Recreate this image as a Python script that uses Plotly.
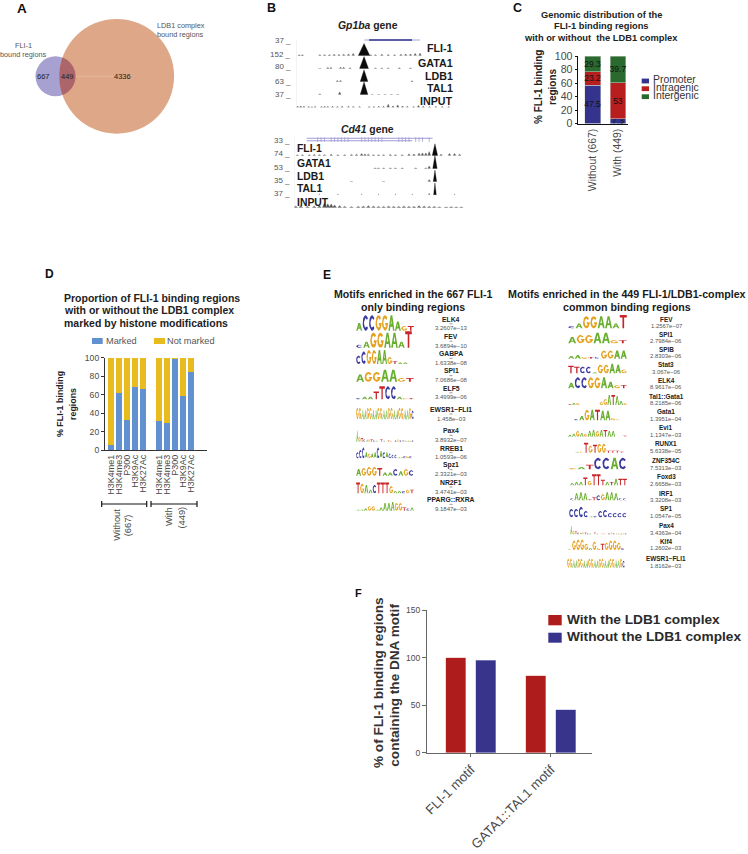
import numpy as np
import plotly.graph_objects as go

W, H = 748, 854
SANS = "Liberation Sans, Arial, sans-serif"
DARK = "#222222"
GREY = "#4a4a4a"

# ---------- data ----------
venn_labels = ["667", "449", "4336"]

c_categories = ["Without (667)", "With (449)"]
c_promoter = [57, 7.3]
c_intragenic = [20, 53]
c_intergenic = [23, 39.7]
c_promoter_text = ["47.5", "7.3"]
c_intragenic_text = ["23.2", "53"]
c_intergenic_text = ["29.3", "39.7"]
c_series = ["Promoter", "Intragenic", "Intergenic"]

d_marks = ["H3K4me1", "H3K4me3", "P300", "H3K9Ac", "H3K27Ac"]
d_marked_without = [5, 62, 32, 68, 66]
d_marked_with = [31, 29, 99, 59, 84]

f_categories = ["FLI-1 motif", "GATA1::TAL1 motif"]
f_with = [100, 81]
f_without = [97, 45]

gp1ba_scale = ["37", "152", "80", "63", "37"]
cd41_scale = ["33", "74", "53", "35", "37"]
track_names = ["FLI-1", "GATA1", "LDB1", "TAL1", "INPUT"]

gp1ba_peak_x = [42.8, 42.8, 42.8, 42.8]
gp1ba_peak_h = [0.93, 0.92, 0.9, 0.97]
gp1ba_fli1_x = [2, 4, 15, 18, 21, 24, 27, 30, 33, 36, 47, 50, 54, 58, 62, 66, 69, 72, 75, 78]
gp1ba_fli1_h = [.05, .05, .05, .06, .06, .1, .08, .1, .12, .15, .05, .06, .1, .08, .06, .1, .12, .12, .16, .18]
gp1ba_gata1_x = [15, 20, 22, 28, 30, 34, 50, 54, 58, 65, 72]
gp1ba_gata1_h = [.03, .08, .08, .1, .1, .05, .04, .04, .04, .05, .04]
gp1ba_ldb1_x = [26, 28, 73]
gp1ba_ldb1_h = [.08, .08, .05]
gp1ba_tal1_x = [15, 27.5, 48, 52, 56, 60, 64]
gp1ba_tal1_h = [.04, .2, .03, .03, .03, .03, .03]
gp1ba_input_x = [1, 3, 5, 8, 10, 12, 16, 18, 20, 23, 26, 29, 33, 36, 40, 46, 49, 52, 55, 58, 61, 64, 67, 70, 74, 77, 80, 84, 88, 92, 96]
gp1ba_input_h = [.1, .12, .1, .08, .05, .08, .08, .1, .08, .1, .08, .1, .1, .08, .08, .08, .08, .1, .1, .25, .12, .2, .12, .1, .08, .15, .1, .08, .08, .08, .08]

cd41_peak_x = [83.4, 83.4, 83.4, 83.4]
cd41_peak_h = [0.9, 1.0, 0.88, 0.9]
cd41_peak_w = [1.6, 1.3, 1.0, 0.8]
cd41_fli1_x = [2, 5, 9, 12, 15, 18, 22, 26, 30, 34, 37, 40, 42, 44, 47, 50, 53, 57, 60, 64, 68, 71, 74, 76, 78, 80, 87, 92, 95, 98]
cd41_fli1_h = [.04, .05, .05, .08, .06, .06, .1, .05, .06, .08, .1, .15, .12, .1, .05, .06, .05, .08, .05, .05, .12, .12, .18, .2, .2, .3, .1, .15, .15, .1]
cd41_gata1_x = [48, 50, 53, 57, 60, 64, 72, 78, 80]
cd41_gata1_h = [.04, .04, .04, .04, .04, .04, .04, .05, .2]
cd41_ldb1_x = [34, 53, 80]
cd41_ldb1_h = [.03, .03, .15]
cd41_tal1_x = [15, 26, 40, 50, 60, 70, 80, 95]
cd41_tal1_h = [.04, .04, .04, .04, .04, .04, .1, .04]
cd41_input_x = [1, 4, 8, 12, 15, 18, 20, 22, 24, 27, 30, 34, 38, 41, 44, 47, 50, 53, 56, 59, 62, 65, 68, 71, 74, 77, 80, 83, 86, 90, 93, 96, 99]
cd41_input_h = [.12, .15, .1, .12, .15, .35, .3, .28, .2, .15, .1, .08, .1, .12, .15, .12, .1, .1, .12, .1, .1, .12, .1, .1, .15, .12, .1, .1, .05, .05, .08, .05, .05]
cd41_exons = [14, 16, 18, 22, 24, 26, 28, 30, 32, 40, 42, 44, 46, 48, 50, 52, 62, 64, 66, 68, 72, 74, 76, 80]

# motif logos: letters and relative heights (tenths of the full logo height)
e_left_names = ["ELK4", "FEV", "GABPA", "SPI1", "ELF5", "EWSR1−FLI1", "Pax4", "RREB1", "Spz1", "NR2F1", "PPARG::RXRA"]
e_left_values = ["3.2607e−13", "3.6894e−10", "1.6338e−08", "7.0686e−08", "3.4999e−06", "1.458e−03", "3.8932e−07", "1.0593e−06", "2.3321e−03", "3.4741e−03", "9.1847e−03"]
e_left_letters = ["ACCGGAAGT", "CAGGAAAT", "CCGGAAGTAA", "AGGAAGT", "CAATTCCAGT", "GGAAGGAAGGAAGGAAGGAAGC",
                  "AGTCAGTCAGTACTGACGCTAAGC", "CCCAGAACACACCCAACGC", "AGGGTAACAGC", "TGAACTTTGAACGT", "AAAGGAAAAAGGTCA"]
e_left_heights = [[5, 10, 10, 10, 10, 10, 6, 3, 3], [2, 4, 10, 10, 10, 10, 4, 11], [6, 9, 10, 10, 10, 10, 5, 2, 1, 1],
                  [6, 8, 8, 10, 10, 3, 3], [1, 2, 2, 6, 10, 10, 10, 2, 1, 1],
                  [9, 9, 8, 8, 9, 9, 8, 8, 9, 9, 8, 8, 9, 9, 8, 8, 9, 9, 8, 8, 9, 7],
                  [10, 4, 3, 2, 2, 2, 2, 1, 1, 0, 2, 1, 0, 1, 1, 0, 1, 2, 1, 1, 1, 1, 1, 1],
                  [5, 7, 9, 5, 4, 4, 5, 9, 6, 5, 5, 4, 3, 3, 1, 1, 2, 2, 2], [6, 7, 8, 8, 7, 3, 3, 6, 4, 6, 5],
                  [9, 8, 7, 3, 7, 9, 9, 9, 6, 2, 2, 2, 3, 3], [1, 1, 2, 4, 4, 1, 3, 7, 7, 8, 7, 7, 3, 2, 3]]

e_right_names = ["FEV", "SPI1", "SPIB", "Stat3", "ELK4", "Tal1::Gata1", "Gata1", "Evi1", "RUNX1", "ZNF354C", "Foxd3", "IRF1", "SP1", "Pax4", "Klf4", "EWSR1−FLI1"]
e_right_values = ["1.2567e−07", "2.7984e−06", "2.8303e−06", "3.067e−06", "8.9617e−06", "8.2185e−06", "1.3951e−04", "1.1347e−03", "5.6338e−05", "7.5313e−03", "2.6658e−03", "3.3208e−03", "1.0547e−05", "3.4363e−04", "1.2602e−03", "1.8162e−03"]
e_right_letters = ["CAGGAAAT", "AGGAAGT", "AAGTCGGAA", "TTCCAGGAAG", "ACCGGAAGT", "TAGCATCAGGATAAG", "CAGATAAGG", "AAGAGAAGATAACCT",
                   "AGTGTGGTTTT", "GATCCAC", "AAATGTTTATATT", "CAAATTCGAAACC", "CCCCACCCCCCC", "AGTCAGTCAGTACTGACGCTAAGC", "GGGGGAGGTGGGGC", "GGAAGGAAGGAAGGAAGGAAGC"]
e_right_heights = [[2, 4, 10, 10, 10, 10, 4, 11], [6, 8, 8, 10, 10, 3, 3], [3, 4, 2, 2, 2, 9, 9, 9, 9], [8, 7, 7, 7, 1, 9, 9, 10, 9, 4],
                   [5, 10, 10, 10, 10, 10, 6, 3, 3], [1, 2, 2, 0, 0, 0, 0, 0, 3, 6, 10, 10, 9, 4, 2], [1, 4, 10, 10, 10, 9, 9, 2, 1],
                   [2, 3, 6, 4, 3, 6, 7, 6, 7, 7, 6, 6, 0, 0, 1], [1, 1, 10, 7, 8, 9, 9, 2, 2, 2, 1], [1, 2, 4, 10, 10, 10, 10],
                   [2, 3, 3, 7, 4, 10, 10, 5, 3, 3, 6, 6, 6], [2, 7, 8, 7, 1, 3, 5, 6, 8, 8, 7, 2, 2], [8, 8, 10, 6, 1, 1, 6, 7, 4, 4, 4, 4],
                   [10, 4, 3, 2, 2, 2, 2, 1, 1, 0, 2, 1, 0, 1, 1, 0, 1, 2, 1, 1, 1, 1, 1, 1], [1, 9, 10, 10, 6, 2, 8, 2, 6, 7, 9, 9, 7, 2],
                   [9, 9, 8, 8, 9, 9, 8, 8, 9, 9, 8, 8, 9, 9, 8, 8, 9, 9, 8, 8, 9, 7]]

# ---------- layout geometry (pixels) ----------
e_left_baselines = [330.7, 347.7, 364, 381.7, 399.3, 419.3, 441.7, 458.3, 475.7, 493.3, 510.7]
e_left_name_y = [319.3, 336.7, 353.7, 371, 388.3, 409.3, 430.7, 448, 465, 482.3, 499.7]
e_left_value_y = [328.3, 345.7, 363, 380.3, 397.3, 418.7, 440, 457.3, 474.3, 491.7, 509]
e_left_x = [(356, 414), (356, 412), (356, 408), (356, 414), (356, 414), (356, 414), (356, 414), (356, 412), (356, 414), (356, 414), (356, 414)]
e_left_h = [15.5, 15, 14, 12, 13, 12.7, 12, 12, 11, 12, 11]

e_right_baselines = [328.3, 343.3, 358.7, 373.3, 388.3, 405, 420.3, 436.7, 452.7, 469.3, 485.3, 500.3, 517.3, 534.3, 550, 567.7]
e_right_name_y = [319.3, 334.3, 349.7, 365, 380.3, 396.7, 411.7, 427.7, 443.3, 460, 476.7, 493, 508.7, 525.7, 541, 558.7]
e_right_value_y = [326, 341, 356.3, 371.7, 387, 403.3, 418.7, 435, 451, 467.7, 483.7, 500.3, 516, 532.7, 548.3, 565.7]
e_right_x = [(568, 627), (568, 627), (568, 627), (568, 627), (568, 627), (568, 627), (574, 621), (568, 627), (575, 624), (569, 627), (570, 627), (570, 627), (569, 627), (570, 627), (568, 625), (567, 625)]
e_right_h = [12, 10.5, 9, 9.5, 11, 10, 10.5, 9.5, 10, 11.5, 11, 10, 10.5, 9, 10.5, 10]

LOGO_COLORS = {"A": "#69AE2E", "C": "#3B3B9F", "G": "#E5A11F", "T": "#C9242A"}


def arc(start, end, rx, ry, n=14):
    t = np.radians(np.linspace(start, end, n))
    return list(zip(0.5 + rx * np.cos(t), 0.5 + ry * np.sin(t)))


GLYPHS = {
    "A": [(0, 0), (.36, 1), (.64, 1), (1, 0), (.76, 0), (.68, .25), (.5, .25), (.5, .42), (.62, .42), (.5, .78), (.38, .42), (.5, .42), (.5, .25), (.32, .25), (.24, 0)],
    "T": [(.38, 0), (.38, .82), (0, .82), (0, 1), (1, 1), (1, .82), (.62, .82), (.62, 0)],
    "C": arc(40, 320, .5, .5) + arc(320, 40, .27, .3),
    "G": arc(40, 360, .5, .5) + [(1, .5), (.55, .5), (.55, .33), (.75, .33)] + arc(340, 40, .27, .3),
}

fig = go.Figure()


def dom_x(a, b):
    return [a / W, b / W]


def dom_y(top, bottom):
    return [1 - bottom / H, 1 - top / H]


annots = []


def text(x, y, s, size=9, color=DARK, bold=False, anchor="center", angle=0, family=SANS):
    if bold:
        s = f"<b>{s}</b>"
    annots.append(dict(x=x / W, y=1 - y / H, xref="paper", yref="paper", text=s, showarrow=False,
                       xanchor=anchor, yanchor="middle", textangle=angle, borderpad=0, borderwidth=0,
                       font=dict(family=family, size=size, color=color)))


shapes = []


def rect(x0, y0, x1, y1, color):
    shapes.append(dict(type="rect", xref="x", yref="y", x0=x0, x1=x1, y0=y0, y1=y1, fillcolor=color, line_width=0, layer="above"))


def seg(x0, y0, x1, y1, color="#111", width=1.0):
    shapes.append(dict(type="line", xref="x", yref="y", x0=x0, x1=x1, y0=y0, y1=y1, line=dict(color=color, width=width), layer="above"))


# panel letters
for letter, lx, ly, ls in [("A", 22, 8, 13.5), ("B", 271, 8, 12.5), ("C", 517, 8, 12.5), ("D", 49, 274, 12), ("E", 327, 275, 12), ("F", 358, 593, 11)]:
    text(lx, ly, letter, size=ls, color="#111", bold=True)

# ---------- A: venn ----------
cx1, cx2, cy, r1, r2 = 55.5, 116.7, 76.3, 20.0, 57.4
shapes.append(dict(type="circle", xref="x", yref="y", x0=cx1 - r1, x1=cx1 + r1, y0=cy - r1, y1=cy + r1, fillcolor="#A6A1D1", line_width=0, layer="below"))
shapes.append(dict(type="circle", xref="x", yref="y", x0=cx2 - r2, x1=cx2 + r2, y0=cy - r2, y1=cy + r2, fillcolor="#DEA888", line_width=0, layer="below"))
d = cx2 - cx1
a = (d * d + r1 * r1 - r2 * r2) / (2 * d)
half = np.arccos(a / r1)
half2 = np.arccos((d - a) / r2)
th1 = np.linspace(-half, half, 40)
th2 = np.linspace(np.pi + half2, np.pi - half2, 40)
lx = np.concatenate([cx1 + r1 * np.cos(th1), cx2 + r2 * np.cos(th2)])
ly = np.concatenate([cy + r1 * np.sin(th1), cy + r2 * np.sin(th2)])
path = "M " + " L ".join(f"{px:.2f},{py:.2f}" for px, py in zip(lx, ly)) + " Z"
shapes.append(dict(type="path", xref="x", yref="y", path=path, fillcolor="#AB656B", line_width=0, layer="below"))
seg(76, cy, 113, cy, color="#E9BFA6", width=0.7)
for s, vx in zip(venn_labels, [43, 67, 122]):
    text(vx, cy, s, size=7.5, color="#222")
text(23.5, 46, "FLI-1", size=7.3, color="#555")
text(23.5, 55, "bound regions", size=7.3, color="#555")
text(157, 25, "LDB1 complex", size=7.3, color="#555", anchor="left")
text(157, 34, "bound regions", size=7.3, color="#555", anchor="left")

# ---------- B: browser tracks ----------
text(368, 25, "<i>Gp1ba</i> gene", size=10.4, color="#222", bold=True)
text(367.7, 129.3, "<i>Cd41</i> gene", size=10.4, color="#222", bold=True)
for s, yy in zip(gp1ba_scale, [41, 54.5, 67, 81, 94]):
    text(291, yy, s + " _", size=8, color="#555", anchor="right")
for s, yy in zip(cd41_scale, [140.5, 154, 167, 180, 193]):
    text(290, yy, s + " _", size=8, color="#555", anchor="right")
for s, yy in zip(track_names, [48, 63, 76, 88, 101]):
    text(452.5, yy, s, size=10.7, color="#1a1a1a", bold=True, anchor="right")
for s, yy in zip(track_names, [148.7, 163.7, 176, 188, 202]):
    text(296.5, yy, s, size=10.4, color="#1a1a1a", bold=True, anchor="left")


def add_track(xs, hs, level, xa, ya, half_w=0.8):
    px, py = [], []
    for xv, hv in zip(xs, hs):
        px += [xv - half_w, xv, xv + half_w, None]
        py += [level, level + hv, level, None]
    fig.add_trace(go.Scatter(x=px, y=py, mode="lines", fill="toself", fillcolor="#555", line=dict(color="#555", width=0.4),
                             xaxis=xa, yaxis=ya, hoverinfo="skip", showlegend=False))


add_track(gp1ba_fli1_x, gp1ba_fli1_h, 4, "x5", "y5")
add_track(gp1ba_gata1_x, gp1ba_gata1_h, 3, "x5", "y5")
add_track(gp1ba_ldb1_x, gp1ba_ldb1_h, 2, "x5", "y5")
add_track(gp1ba_tal1_x, gp1ba_tal1_h, 1, "x5", "y5")
add_track(gp1ba_input_x, gp1ba_input_h, 0, "x5", "y5")
for k, (xv, hv) in enumerate(zip(gp1ba_peak_x, gp1ba_peak_h)):
    w = 3.6 if k == 0 else (2.8 if k == 1 else 2.4)
    fig.add_trace(go.Scatter(x=[xv - w, xv, xv + w, xv - w], y=[4 - k, 4 - k + hv, 4 - k, 4 - k], mode="lines", fill="toself",
                             fillcolor="#0c0c0c", line=dict(color="#0c0c0c", width=0.3), xaxis="x5", yaxis="y5", hoverinfo="skip", showlegend=False))
fig.add_trace(go.Scatter(x=[43, 78], y=[5.19, 5.19], mode="lines", line=dict(color="#A9A6D6", width=1), xaxis="x5", yaxis="y5", hoverinfo="skip", showlegend=False))
fig.add_trace(go.Scatter(x=[46, 73], y=[5.19, 5.19], mode="lines", line=dict(color="#35348F", width=1.4), xaxis="x5", yaxis="y5", hoverinfo="skip", showlegend=False))
fig.add_trace(go.Scatter(x=[0, 0], y=[0, 5.2], mode="lines", line=dict(color="#dddddd", width=0.7), xaxis="x5", yaxis="y5", hoverinfo="skip", showlegend=False))

add_track(cd41_fli1_x, cd41_fli1_h, 4, "x6", "y6")
add_track(cd41_gata1_x, cd41_gata1_h, 3, "x6", "y6")
add_track(cd41_ldb1_x, cd41_ldb1_h, 2, "x6", "y6")
add_track(cd41_tal1_x, cd41_tal1_h, 1, "x6", "y6", half_w=.4)
add_track(cd41_input_x, cd41_input_h, 0, "x6", "y6", half_w=1.2)
for k, (xv, hv, w) in enumerate(zip(cd41_peak_x, cd41_peak_h, cd41_peak_w)):
    fig.add_trace(go.Scatter(x=[xv - w, xv, xv + w, xv - w], y=[4 - k, 4 - k + hv, 4 - k, 4 - k], mode="lines", fill="toself",
                             fillcolor="#0c0c0c", line=dict(color="#0c0c0c", width=0.3), xaxis="x6", yaxis="y6", hoverinfo="skip", showlegend=False))
fig.add_trace(go.Scatter(x=[7.5, 82], y=[5.32, 5.32], mode="lines", line=dict(color="#A09CD6", width=1), xaxis="x6", yaxis="y6", hoverinfo="skip", showlegend=False))
fig.add_trace(go.Scatter(x=[7.5, 70], y=[5.13, 5.13], mode="lines", line=dict(color="#A09CD6", width=1), xaxis="x6", yaxis="y6", hoverinfo="skip", showlegend=False))
ex, ey = [], []
for xv in cd41_exons:
    ex += [xv, xv, None]
    ey += [5.05, 5.4, None]
fig.add_trace(go.Scatter(x=ex, y=ey, mode="lines", line=dict(color="#A09CD6", width=0.8), xaxis="x6", yaxis="y6", hoverinfo="skip", showlegend=False))
fig.add_trace(go.Scatter(x=[0, 0], y=[0, 5.4], mode="lines", line=dict(color="#e4e4e4", width=0.7), xaxis="x6", yaxis="y6", hoverinfo="skip", showlegend=False))

# ---------- C: stacked bars ----------
text(601, 15, "Genomic distribution of the", size=9.3, color="#222", bold=True)
text(601, 26, "FLI-1 binding regions", size=9.3, color="#222", bold=True)
text(601, 38, "with or without  the LDB1 complex", size=9.3, color="#222", bold=True)
c_colors = ["#34348F", "#B81E1E", "#2A6A2E"]
for name, vals, lbl, col in zip(c_series, [c_promoter, c_intragenic, c_intergenic], [c_promoter_text, c_intragenic_text, c_intergenic_text], c_colors):
    fig.add_trace(go.Bar(x=[0, 1], y=vals, name=name, width=0.63, marker=dict(color=col, line=dict(color="#cfd8cf", width=0.5)), text=lbl,
                         textposition="inside", insidetextanchor="middle", textangle=0, constraintext="none",
                         insidetextfont=dict(family=SANS, size=8.5, color="#111"), xaxis="x2", yaxis="y2", showlegend=False, hoverinfo="skip"))
text(538, 87, "% FLI-1 binding", size=10, color="#222", bold=True, angle=-90)
text(552, 87, "regions", size=10, color="#222", bold=True, angle=-90)
for name, col, sy, ty in zip(c_series, c_colors, [81, 88.7, 96.7], [79.3, 87.5, 95.7]):
    rect(641.7, sy - 2.4, 649, sy + 2.4, col)
    text(653, ty, name, size=10.4, color="#333", anchor="left")

# ---------- D: stacked bars ----------
text(63.7, 297.7, "Proportion of FLI-1 binding regions", size=10.5, color="#222", bold=True, anchor="left")
text(63.7, 310.3, "with or without the LDB1 complex", size=10.5, color="#222", bold=True, anchor="left")
text(63.7, 323.3, "marked by histone modifications", size=10.5, color="#222", bold=True, anchor="left")
D_BLUE, D_YEL = "#6291D2", "#E8BC1F"
rect(92, 338, 102.7, 344, D_BLUE)
text(105.5, 341, "Marked", size=9.2, color="#555", anchor="left")
rect(154, 338, 165, 344, D_YEL)
text(166.7, 341, "Not marked", size=9.2, color="#555", anchor="left")
d_x = [0, 1, 2, 3, 4, 6, 7, 8, 9, 10]
d_marked = d_marked_without + d_marked_with
d_not_marked = [100 - v for v in d_marked]
fig.add_trace(go.Bar(x=d_x, y=d_marked, name="Marked", width=0.7, marker=dict(color=D_BLUE, line_width=0), xaxis="x3", yaxis="y3", showlegend=False, hoverinfo="skip"))
fig.add_trace(go.Bar(x=d_x, y=d_not_marked, name="Not marked", width=0.7, marker=dict(color=D_YEL, line_width=0), xaxis="x3", yaxis="y3", showlegend=False, hoverinfo="skip"))
text(60, 404, "% FLI-1 binding", size=8.9, color="#222", bold=True, angle=-90)
text(73, 404, "regions", size=8.9, color="#222", bold=True, angle=-90)
for x0, x1 in [(101.7, 146.7), (151, 197)]:
    seg(x0, 504, x1, 504, width=1.2)
    seg(x0, 501, x0, 507, width=1.2)
    seg(x1, 501, x1, 507, width=1.2)
text(116.7, 525, "Without", size=9.3, color=GREY, angle=-90)
text(128.3, 525, "(667)", size=9.3, color=GREY, angle=-90)
text(169, 517, "With", size=9.3, color=GREY, angle=-90)
text(181, 517.5, "(449)", size=9.3, color=GREY, angle=-90)

# ---------- E: motif logos ----------
text(413, 294, "Motifs enriched in the 667 FLI-1", size=10.6, color="#1a1a1a", bold=True)
text(413, 307.3, "only binding regions", size=10.6, color="#1a1a1a", bold=True)
text(626.7, 294, "Motifs enriched in the 449 FLI-1/LDB1-complex", size=10.7, color="#1a1a1a", bold=True)
text(626.7, 307.3, "common binding regions", size=10.7, color="#1a1a1a", bold=True)

polys = {k: ([], []) for k in "ACGT"}


def add_logo(letters, heights, x_span, base, full_h):
    x0, x1 = x_span
    step = (x1 - x0) / len(letters)
    for i, (ch, hv) in enumerate(zip(letters, heights)):
        if hv == 0:
            continue
        gh = full_h * hv / 10
        px, py = polys[ch]
        g = GLYPHS[ch] + [GLYPHS[ch][0]]
        px += [x0 + (i + .03 + gx * .94) * step for gx, gy in g] + [None]
        py += [base - gy * gh for gx, gy in g] + [None]


for L, Hh, span, base, fh in zip(e_left_letters, e_left_heights, e_left_x, e_left_baselines, e_left_h):
    add_logo(L, Hh, span, base, fh)
for L, Hh, span, base, fh in zip(e_right_letters, e_right_heights, e_right_x, e_right_baselines, e_right_h):
    add_logo(L, Hh, span, base, fh)
for ch, (px, py) in polys.items():
    fig.add_trace(go.Scatter(x=px, y=py, mode="lines", fill="toself", fillcolor=LOGO_COLORS[ch], line=dict(color=LOGO_COLORS[ch], width=0),
                             xaxis="x", yaxis="y", hoverinfo="skip", showlegend=False))

for nm, val, ny, vy in zip(e_left_names, e_left_values, e_left_name_y, e_left_value_y):
    text(451, ny, nm, size=6.8, color="#222", bold=True)
    seg(449.5, (ny + vy) / 2, 452.5, (ny + vy) / 2, color="#555", width=0.6)
    text(451, vy, val, size=6, color="#555")
for nm, val, ny, vy in zip(e_right_names, e_right_values, e_right_name_y, e_right_value_y):
    text(666, ny, nm, size=6.4, color="#222", bold=True)
    text(666, vy, val, size=5.9, color="#555")

# ---------- F: grouped bars ----------
F_RED, F_BLUE = "#AE1C1C", "#38348B"
fig.add_trace(go.Bar(x=[i - .1875 for i in range(len(f_categories))], y=f_with, name="With the LDB1 complex", width=.25,
                     marker=dict(color=F_RED, line=dict(color="#e8b0b0", width=.5)), xaxis="x4", yaxis="y4", showlegend=False, hoverinfo="skip"))
fig.add_trace(go.Bar(x=[i + .1875 for i in range(len(f_categories))], y=f_without, name="Without the LDB1 complex", width=.25,
                     marker=dict(color=F_BLUE, line=dict(color="#b0b0e0", width=.5)), xaxis="x4", yaxis="y4", showlegend=False, hoverinfo="skip"))
text(378, 683, "% of FLI-1 binding regions", size=13.6, color="#333", bold=True, angle=-90)
text(395, 685.7, "containing the DNA motif", size=13.6, color="#333", bold=True, angle=-90)
rect(548.3, 615, 561.7, 625.3, F_RED)
rect(548.3, 632.7, 561.7, 642.7, F_BLUE)
text(566.7, 619.3, "With the LDB1 complex", size=13.7, color="#2b2b2b", bold=True, anchor="left")
text(567.3, 636.7, "Without the LDB1 complex", size=13.7, color="#2b2b2b", bold=True, anchor="left")

# ---------- axes ----------
hidden = dict(visible=False, fixedrange=True, showgrid=False, zeroline=False)
fig.update_layout(
    width=W, height=H, autosize=False, margin=dict(l=0, r=0, t=0, b=0, pad=0, autoexpand=False), paper_bgcolor="white", plot_bgcolor="white",
    barmode="stack", font=dict(family=SANS, color=DARK), showlegend=False,
    xaxis=dict(hidden, domain=[0, 1], range=[0, W]),
    yaxis=dict(hidden, domain=[0, 1], range=[H, 0]),
    xaxis2=dict(domain=dom_x(577.7, 628), anchor="y2", range=[-.593, 1.395], tickmode="array", tickvals=[0, 1], ticktext=c_categories, tickangle=-90,
                showline=True, linecolor="#111", linewidth=1.3, ticks="", showgrid=False, zeroline=False, tickfont=dict(size=10.4, color=GREY, family=SANS)),
    yaxis2=dict(domain=dom_y(56, 123.5), anchor="x2", range=[0, 100], tickvals=[0, 20, 40, 60, 80, 100], showline=True, linecolor="#111", linewidth=1.3,
                ticks="outside", ticklen=2, tickcolor="#111", showgrid=False, zeroline=False, tickfont=dict(size=10.6, color=GREY, family=SANS)),
    xaxis3=dict(domain=dom_x(105, 207), anchor="y3", range=[-.75, 12], tickmode="array", tickvals=d_x, ticktext=d_marks + d_marks, tickangle=-90,
                showline=True, linecolor="#333", linewidth=1.2, ticks="", showgrid=False, zeroline=False, tickfont=dict(size=9, color=GREY, family=SANS)),
    yaxis3=dict(domain=dom_y(357.7, 450), anchor="x3", range=[0, 100], tickvals=[0, 20, 40, 60, 80, 100], showline=True, linecolor="#333", linewidth=1.2,
                ticks="outside", ticklen=3, tickcolor="#333", showgrid=False, zeroline=False, tickfont=dict(size=8.6, color=GREY, family=SANS)),
    xaxis4=dict(domain=dom_x(427, 591.7), anchor="y4", range=[-.55, 1.51], tickmode="array", tickvals=[0, 1], ticktext=f_categories, tickangle=-45,
                showline=True, linecolor="#666", linewidth=1.1, ticks="outside", ticklen=3, tickcolor="#666", showgrid=False, zeroline=False,
                tickfont=dict(size=13.2, color=GREY, family=SANS)),
    yaxis4=dict(domain=dom_y(610, 752.7), anchor="x4", range=[0, 150], tickvals=[0, 50, 100, 150], showline=True, linecolor="#666", linewidth=1.1,
                ticks="outside", ticklen=4, tickcolor="#666", showgrid=False, zeroline=False,
                tickfont=dict(size=8.5, color=GREY, family="Liberation Sans Narrow, Liberation Sans")),
    xaxis5=dict(hidden, domain=dom_x(296, 455), anchor="y5", range=[0, 100]),
    yaxis5=dict(hidden, domain=dom_y(107.5 - 5.3 * 13, 107.5), anchor="x5", range=[0, 5.3]),
    xaxis6=dict(hidden, domain=dom_x(294, 463), anchor="y6", range=[0, 100]),
    yaxis6=dict(hidden, domain=dom_y(207.7 - 5.5 * 13.05, 207.7), anchor="x6", range=[0, 5.5]),
    shapes=shapes, annotations=annots,
)

fig.write_html("out.html", config=dict(displayModeBar=False))
page = open("out.html", encoding="utf-8").read()
page = page.replace("<head>", "<head><style>html,body{margin:0;padding:0;overflow:hidden;background:#fff}</style>", 1)
open("out.html", "w", encoding="utf-8").write(page)
